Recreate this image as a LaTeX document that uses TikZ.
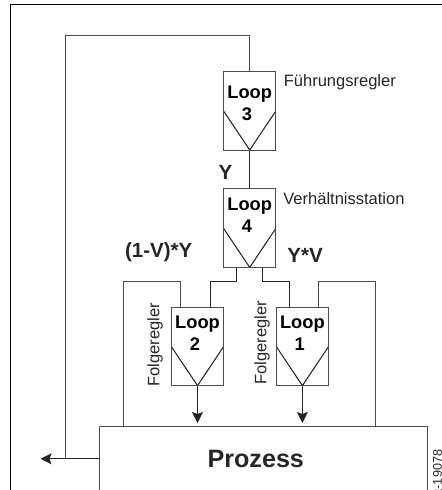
\documentclass[tikz,border=0pt]{standalone}
\usepackage{fontspec}
\setmainfont{Liberation Sans}
\usetikzlibrary{arrows.meta}
\definecolor{rahmen}{gray}{0.15}
\definecolor{linie}{gray}{0.3}
\tikzset{
	loopbox/.style={draw=linie,line width=0.6pt,minimum width=1.05cm,minimum height=1.57cm,inner sep=0pt,align=center,
		font=\fontsize{10.4}{12.5}\selectfont\bfseries,text depth=15pt,
		path picture={\draw[rahmen,line width=0.6pt] (path picture bounding box.west)--(path picture bounding box.south)--(path picture bounding box.east);}},
	notiz/.style={inner sep=0pt,text=rahmen,font=\fontsize{9.4}{11}\selectfont},
	signal/.style={inner sep=0pt,text=rahmen,font=\fontsize{11.7}{14}\selectfont\bfseries},
	rueck/.style={draw=linie,line width=0.6pt},
	stell/.style={draw=rahmen,line width=0.7pt}
}
\begin{document}
\begin{tikzpicture}[x=0.02cm,y=0.02cm,line join=miter,>={Stealth[length=2.2mm,width=2.2mm,inset=0.4mm]}]
	\useasboundingbox (0,0) rectangle (442,490);
	\draw[black,line width=0.8pt] (10.5,0)--(10.5,485.5)--(442,485.5);
	% Regler
	\node[loopbox,text depth=8.6pt] (loop3) at (249.7,379.2) {Loop\\3\hspace*{3pt}};
	\node[loopbox] (loop4) at (249.7,261.8) {Loop\\4\hspace*{3pt}};
	\node[loopbox] (loop2) at (197.5,143.6) {Loop\\2\hspace*{3pt}};
	\node[loopbox] (loop1) at (302.4,143.6) {Loop\\1\hspace*{3pt}};
	\node[draw=linie,line width=0.6pt,minimum width=6.56cm,minimum height=1.31cm,inner sep=0pt,text=rahmen,font=\fontsize{14.3}{17}\selectfont\bfseries] (prozess) at (263.5,31.2) {Prozess\hspace*{8.8pt}};
	% Texte
	\node[notiz,anchor=west] (fuehrung) at (283.5,408) {Führungsregler};
	\node[notiz,anchor=west] (verhaeltnis) at (283,291.5) {Verhältnisstation};
	\node[notiz,rotate=90] (folge2) at (155,145) {Folgeregler};
	\node[notiz,rotate=90] (folge1) at (262,147) {Folgeregler};
	\node[signal] (y) at (225.5,318) {Y};
	\node[signal] (ya) at (158.7,238) {(1-V)*Y};
	\node[signal] (yb) at (305,235) {Y*V};
	\node[inner sep=0pt,text=rahmen,rotate=90,anchor=east,font=\fontsize{7.2}{8}\selectfont] (nummer) at (437.5,40.5) {z-19078};
	% Hilfspunkte
	\coordinate (oben) at (65.5,454.5);
	\coordinate (aus) at (40.5,31.2);
	\coordinate (knick) at (250,208.5);
	\coordinate (lrand) at (123.5,208.5);
	\coordinate (rrand) at (375.5,208.5);
	% Verbindungen
	\draw[rueck] (loop3.north) |- (oben) -- (oben |- prozess.west);
	\draw[stell] (loop3.south) -- (loop4.north);
	\draw[stell] ([xshift=-0.26cm]loop4.south) |- ([xshift=0.26cm]knick -| loop2.north) -- ([xshift=0.26cm]loop2.north);
	\draw[stell] ([xshift=0.26cm]loop4.south) |- ([xshift=-0.26cm]knick -| loop1.north) -- ([xshift=-0.26cm]loop1.north);
	\draw[rueck] ([xshift=-0.34cm]loop2.north) |- (lrand) -- (lrand |- prozess.north);
	\draw[rueck] ([xshift=0.32cm]loop1.north) |- (rrand) -- (rrand |- prozess.north);
	\draw[stell,->,shorten >=0.05cm] (loop2.south) -- (loop2.south |- prozess.north);
	\draw[stell,->,shorten >=0.05cm] (loop1.south) -- (loop1.south |- prozess.north);
	\draw[stell,->] (prozess.west) -- (aus);
\end{tikzpicture}
\end{document}
